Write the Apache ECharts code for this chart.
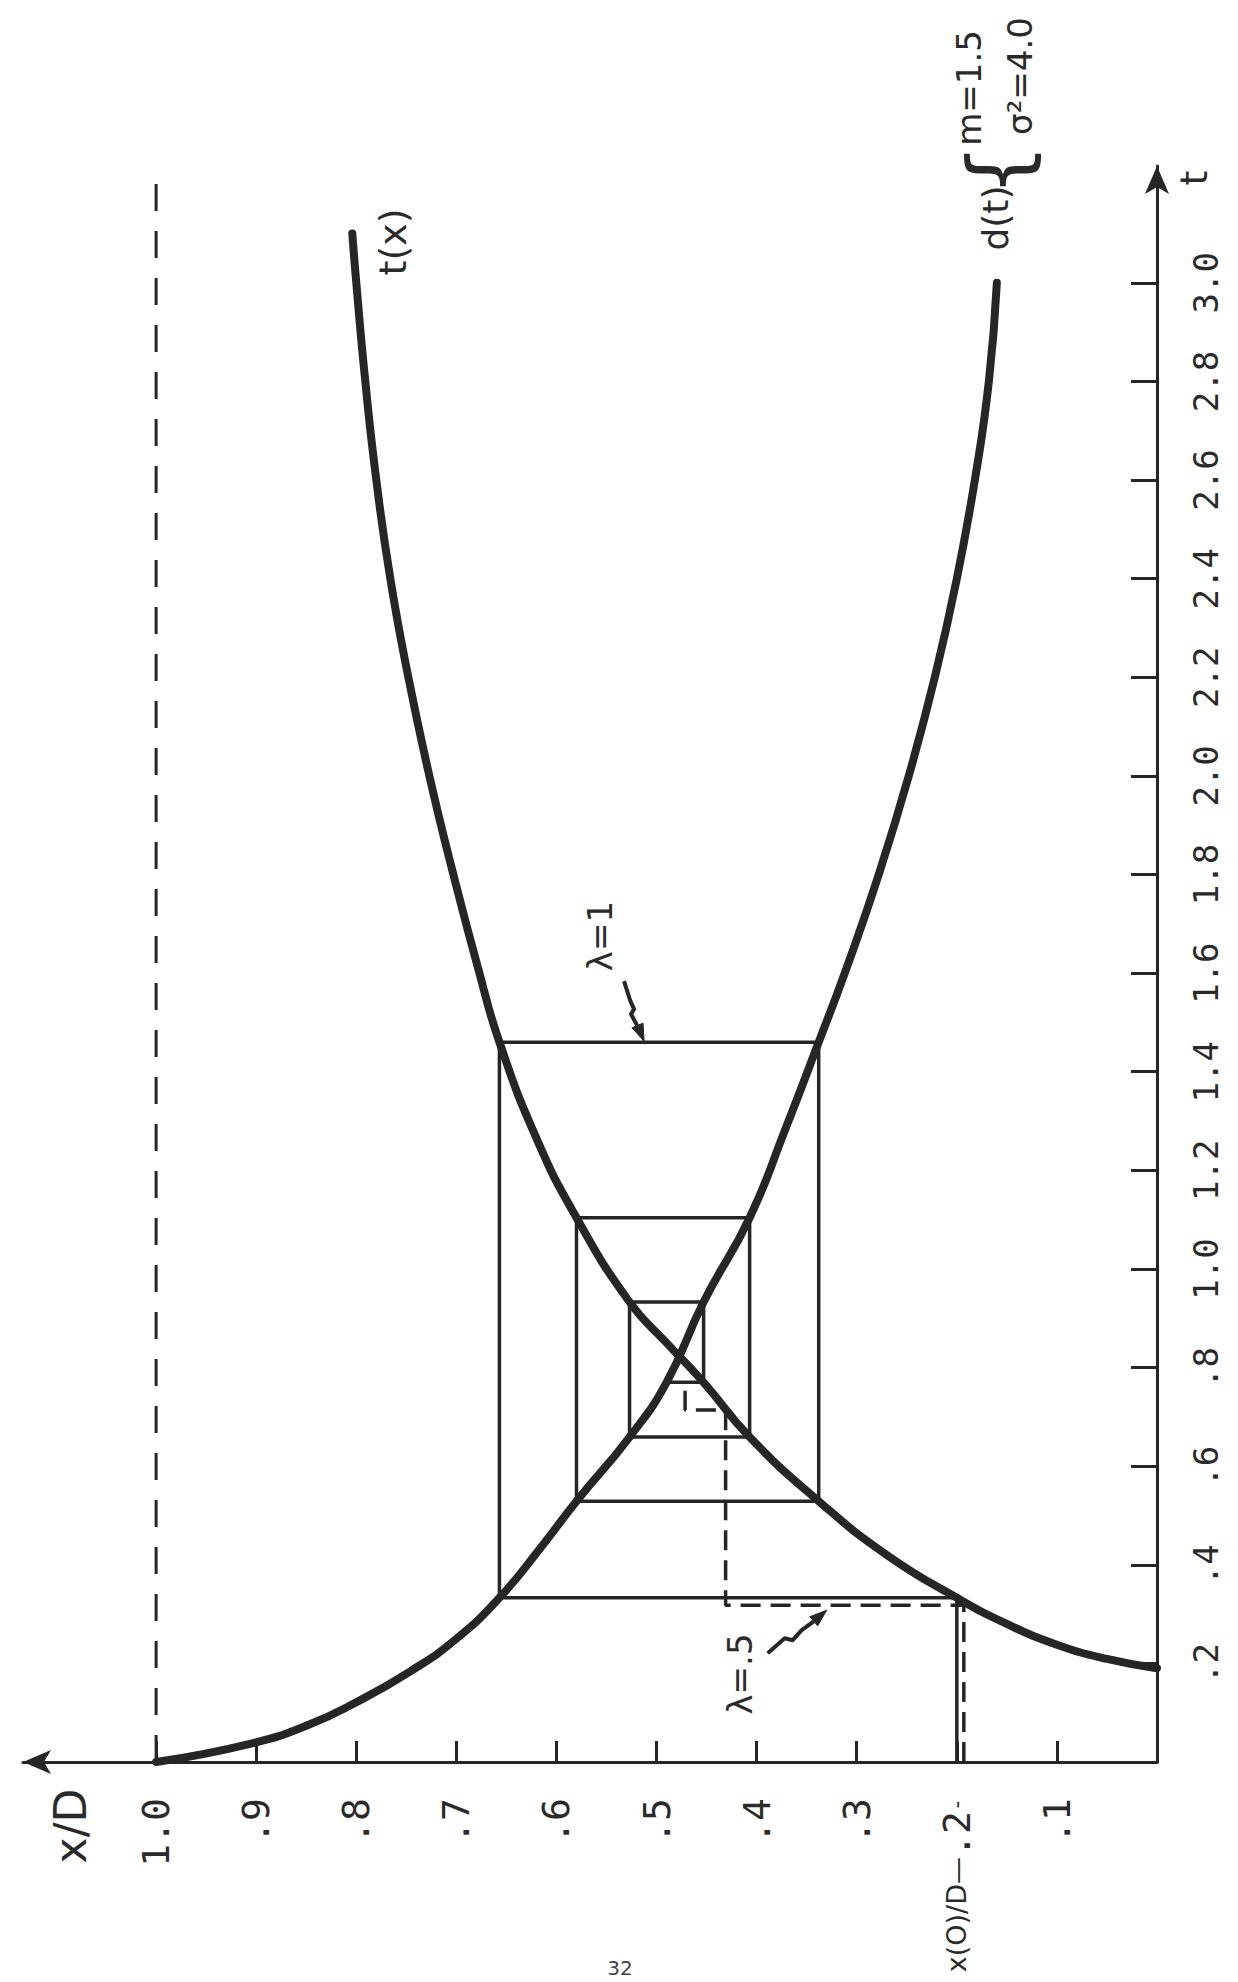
<!DOCTYPE html>
<html>
<head>
<meta charset="utf-8">
<script src="https://cdn.jsdelivr.net/npm/echarts@6/dist/echarts.min.js"></script>
<style>
  html, body { margin: 0; padding: 0; background: #ffffff; }
  #chart { width: 1238px; height: 1982px; }
</style>
</head>
<body>
<div id="chart"></div>
<script>
// Tick positions and labels for the x/D axis
const xdTicks = [0.1, 0.2, 0.3, 0.4, 0.5, 0.6, 0.7, 0.8, 0.9, 1.0];
const xdTickLabels = ['.1', '.2', '.3', '.4', '.5', '.6', '.7', '.8', '.9', '1.0'];

// Tick positions and labels for the t axis
const tTicks = [0.2, 0.4, 0.6, 0.8, 1.0, 1.2, 1.4, 1.6, 1.8, 2.0, 2.2, 2.4, 2.6, 2.8, 3.0];
const tTickLabels = ['.2', '.4', '.6', '.8', '1.0', '1.2', '1.4', '1.6', '1.8', '2.0', '2.2', '2.4', '2.6', '2.8', '3.0'];

// Curve t(x): x/D and the matching t
const txXD = [0, 0.05, 0.10, 0.15, 0.200, 0.27, 0.338, 0.407, 0.453, 0.490, 0.527, 0.580, 0.620, 0.657, 0.677, 0.703, 0.727, 0.748, 0.766, 0.780, 0.791, 0.800, 0.804];
const txT  = [0.190, 0.209, 0.238, 0.280, 0.333, 0.420, 0.529, 0.659, 0.770, 0.850, 0.933, 1.104, 1.265, 1.460, 1.600, 1.800, 2.000, 2.200, 2.400, 2.600, 2.800, 3.000, 3.100];

// Curve d(t), m = 1.5, sigma^2 = 4.0: t and the matching x/D
const dtT  = [0, 0.0385, 0.076, 0.120, 0.184, 0.250, 0.333, 0.434, 0.529, 0.659, 0.770, 0.933, 1.104, 1.280, 1.460, 1.600, 1.800, 2.000, 2.200, 2.400, 2.600, 2.800, 3.000];
const dtXD = [1.0, 0.903, 0.847, 0.801, 0.746, 0.700, 0.657, 0.616, 0.580, 0.527, 0.490, 0.453, 0.407, 0.372, 0.338, 0.312, 0.278, 0.248, 0.222, 0.200, 0.182, 0.168, 0.160];

// Iteration path, lambda = 1 (solid)
const path1XD = [0.200, 0.200, 0.657, 0.657, 0.338, 0.338, 0.580, 0.580, 0.407, 0.407, 0.527, 0.527, 0.453, 0.453, 0.490];
const path1T  = [0,     0.333, 0.333, 1.460, 1.460, 0.529, 0.529, 1.104, 1.104, 0.659, 0.659, 0.933, 0.933, 0.770, 0.770];

// Iteration path, lambda = .5 (dashed)
const path5XD = [0.193, 0.193, 0.431, 0.431, 0.4715, 0.4715];
const path5T  = [0,     0.318, 0.318, 0.714, 0.714,  0.770];

// Reference level x/D = 1.0
const limitXD = [1.0, 1.0];
const limitT  = [0, 3.207];

const INK = '#262626';
const zip = (a, b) => a.map((v, i) => [v, b[i]]);

const chart = echarts.init(document.getElementById('chart'), null, { renderer: 'svg' });

const tickFont = 'DejaVu Sans Mono';
const letterFont = 'DejaVu Sans';

chart.setOption({
  backgroundColor: '#ffffff',
  animation: false,
  grid: { left: 23, right: 81, top: 166, bottom: 220, containLabel: false, outerBoundsMode: 'none' },
  xAxis: {
    type: 'value',
    min: 0,
    max: 1.133,
    inverse: true,
    splitLine: { show: false },
    axisLine: {
      show: true,
      onZero: false,
      symbol: ['arrow', 'none'],
      symbolSize: [18, 28],
      lineStyle: { color: INK, width: 3 }
    },
    axisTick: {
      show: true,
      inside: true,
      length: 21,
      customValues: xdTicks,
      lineStyle: { color: INK, width: 3 }
    },
    axisLabel: {
      show: true,
      customValues: xdTicks,
      rotate: 90,
      margin: 36,
      color: '#2a2a2a',
      fontFamily: tickFont,
      fontSize: 38,
      formatter: function (v) {
        const i = xdTicks.findIndex(x => Math.abs(x - v) < 1e-6);
        const s = i >= 0 ? xdTickLabels[i] : '';
        if (Math.abs(v - 0.2) < 1e-6) return '{lead|x(O)/D—}' + s + '{dash|-}';
        return s;
      },
      rich: {
        lead: { fontFamily: letterFont, fontSize: 27, color: '#2a2a2a' },
        dash: { fontFamily: tickFont, fontSize: 22, color: '#2a2a2a' }
      }
    }
  },
  yAxis: {
    type: 'value',
    position: 'right',
    min: 0,
    max: 3.237,
    splitLine: { show: false },
    axisLine: {
      show: true,
      onZero: false,
      symbol: ['none', 'arrow'],
      symbolSize: [18, 28],
      lineStyle: { color: INK, width: 3 }
    },
    axisTick: {
      show: true,
      inside: true,
      length: 26,
      customValues: tTicks,
      lineStyle: { color: INK, width: 3 }
    },
    axisLabel: {
      show: true,
      customValues: tTicks,
      rotate: 90,
      margin: 32,
      color: '#2a2a2a',
      fontFamily: tickFont,
      fontSize: 34,
      formatter: function (v) {
        const i = tTicks.findIndex(x => Math.abs(x - v) < 1e-6);
        return i >= 0 ? tTickLabels[i] : '';
      }
    }
  },
  series: [
    {
      name: 'x/D = 1.0',
      type: 'line',
      data: zip(limitXD, limitT),
      showSymbol: false,
      lineStyle: { color: INK, width: 3, type: [27, 20] },
      z: 1
    },
    {
      name: 'lambda = 1',
      type: 'line',
      data: zip(path1XD, path1T),
      showSymbol: false,
      lineStyle: { color: INK, width: 3.5 },
      z: 2
    },
    {
      name: 'lambda = .5',
      type: 'line',
      data: zip(path5XD, path5T),
      showSymbol: false,
      lineStyle: { color: INK, width: 3.5, type: [20, 10] },
      z: 2
    },
    {
      name: 't(x)',
      type: 'line',
      data: zip(txXD, txT),
      showSymbol: false,
      smooth: 0.5,
      lineStyle: { color: INK, width: 8, cap: 'round' },
      z: 3
    },
    {
      name: 'd(t)',
      type: 'line',
      data: zip(dtXD, dtT),
      showSymbol: false,
      smooth: 0.5,
      lineStyle: { color: INK, width: 8, cap: 'round' },
      z: 3
    }
  ]
});

// Annotations: rotated lettering and squiggle arrows
const px = (xd, t) => chart.convertToPixel({ gridIndex: 0 }, [xd, t]);

function vtext(text, x, y, size) {
  return {
    type: 'text',
    x: x, y: y,
    rotation: Math.PI / 2,
    style: {
      text: text,
      fill: '#2a2a2a',
      font: size + 'px "' + letterFont + '"',
      align: 'center',
      verticalAlign: 'middle',
      textAlign: 'center',
      textVerticalAlign: 'middle'
    },
    z: 10
  };
}

function squiggle(anchor, offsets) {
  const pts = offsets.map(o => [anchor[0] + o[0], anchor[1] + o[1]]);
  const n = pts.length;
  const tip = pts[n - 1];
  const prev = pts[n - 2];
  let dx = tip[0] - prev[0], dy = tip[1] - prev[1];
  const len = Math.hypot(dx, dy);
  dx /= len; dy /= len;
  const bx = tip[0] - 17 * dx, by = tip[1] - 17 * dy;
  const nx = -dy, ny = dx;
  return [
    {
      type: 'polyline',
      shape: { points: pts.slice(0, n - 1).concat([[bx, by]]) },
      style: { stroke: INK, lineWidth: 4, fill: null, lineJoin: 'round' },
      z: 10
    },
    {
      type: 'polygon',
      shape: { points: [tip, [bx + 6 * nx, by + 6 * ny], [bx - 6 * nx, by - 6 * ny]] },
      style: { fill: INK, stroke: INK, lineWidth: 1 },
      z: 10
    }
  ];
}

const a1 = px(0.5125, 1.460);
const a5 = px(0.330, 0.318);

const graphics = [
  vtext('x/D', 70, 1826, 44),
  vtext('t', 1194, 178, 38),
  vtext('t(x)', 393, 242, 38),
  vtext('d(t)', 995, 218, 36),
  vtext('{', 999, 170, 84),
  vtext('m=1.5', 969, 88, 34),
  vtext('σ²=4.0', 1020, 76, 34),
  vtext('λ=1', 600, 936, 34),
  vtext('λ=.5', 740, 1674, 34),
  {
    type: 'text', x: 620, y: 1968,
    style: { text: '32', fill: '#444', font: '20px "' + letterFont + '"', align: 'center', verticalAlign: 'middle' },
    z: 10
  }
].concat(
  squiggle(a1, [[-20, -61], [-14, -42], [-10, -33], [-13, -28], [-5, -13], [0, -1]]),
  squiggle(a5, [[-59, 48], [-42, 33], [-34, 35], [-25, 25], [-14, 17], [0, 5]])
);

chart.setOption({ graphic: graphics });
</script>
</body>
</html>
